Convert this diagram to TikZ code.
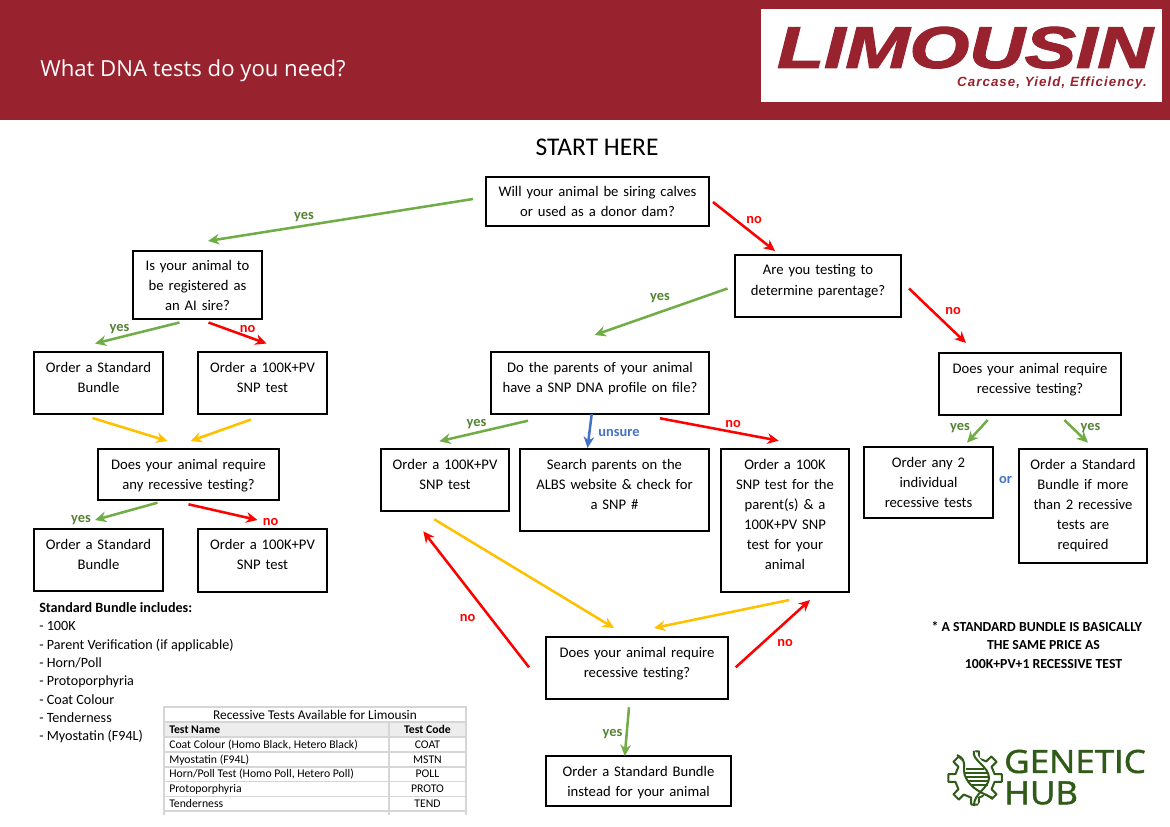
\documentclass[tikz,border=0pt]{standalone}
\usepackage{fontspec}
\setmainfont{Carlito}
\newfontfamily\limofont[BoldItalicFeatures={FakeBold=2}]{Liberation Sans}
\newfontfamily\carcasefont[BoldItalicFeatures={LetterSpace=8}]{Liberation Sans}
\newfontfamily\titlefont{Open Sans}
\newfontfamily\hubfont[FakeBold=1.5]{Open Sans}
\usetikzlibrary{positioning,calc,arrows.meta}
\definecolor{Banner}{HTML}{98222E}
\definecolor{YesGreen}{HTML}{70AD47}
\definecolor{YesText}{HTML}{548235}
\definecolor{NoRed}{HTML}{FF0000}
\definecolor{MoreYellow}{HTML}{FFC000}
\definecolor{UnsureBlue}{HTML}{4472C4}
\definecolor{HubGreen}{HTML}{2F5A17}
\definecolor{TableLine}{HTML}{D6D6D6}
\definecolor{TableHead}{HTML}{EDEDED}
\tikzset{
  order box/.style 2 args={draw=black,line width=1.3pt,anchor=north west,
    align=center,inner sep=0pt,outer sep=0pt,text width=#1*.75pt,minimum height=#2*.75pt,
    text height=15pt,text depth=#2*.75pt-15pt,
    font=\fontsize{11}{15}\selectfont},
  flow arrow/.style={->,>={Stealth[length=8.5pt,width=8pt]},line width=1.9pt},
  yes arrow/.style={flow arrow,draw=YesGreen},
  no arrow/.style={flow arrow,draw=NoRed},
  next arrow/.style={flow arrow,draw=MoreYellow},
  unsure arrow/.style={flow arrow,draw=UnsureBlue},
  arrow label/.style={font=\fontsize{10.8}{13}\selectfont\bfseries,inner sep=0pt,yshift=-1.6pt},
  yes label/.style={arrow label,text=YesText},
  no label/.style={arrow label,text=NoRed},
  blue label/.style={arrow label,text=UnsureBlue},
  table text/.style={font=\fontsize{8.8}{11}\selectfont,inner sep=0pt,text height=6.5pt,text depth=2pt},
  gene line/.style={draw=HubGreen,line width=1.5pt}
}
\begin{document}
\begin{tikzpicture}[x=.75pt,y=-.75pt]
  \useasboundingbox (0,0) rectangle (1170,827);
  \fill[Banner] (0,0) rectangle (1170,120);
  \node[anchor=west,text=white,inner sep=0pt,font=\fontsize{16.6}{20}\selectfont\titlefont] (title) at (40,71) {What DNA tests do you need?};
  \node[draw=none,fill=white,anchor=north west,minimum width=300.75pt,minimum height=69.5pt,inner sep=0pt] (logobox) at (761,9) {};
  \node[inner sep=0pt,text=Banner,xscale=1.31,transform shape,text height=32pt,text depth=0pt,font=\fontsize{44}{44}\selectfont\limofont\bfseries\itshape] (limousin) at (965,46.5) {LIMOUSIN};
  \node[anchor=east,inner sep=0pt,text=Banner,font=\fontsize{10}{12}\selectfont\carcasefont\bfseries\itshape] (carcase) at (1147,83) {Carcase, Yield, Efficiency.};
  \node[inner sep=0pt,font=\fontsize{19.1}{22}\selectfont] (start) at (597,147) {START HERE};
  % left branch
  \node[order box={223}{49}] (siring) at (486,177) {Will your animal be siring calves\\or used as a donor dam?};
  \node[order box={129}{68}] (aisire) at (133,251) {Is your animal to\\be registered as\\an AI sire?};
  \node[order box={129}{62}] (stdfirst) at (34,352) {Order a Standard\\Bundle};
  \node[order box={129}{62}] (snpfirst) at (198,352) {Order a 100K+PV\\SNP test};
  \node[order box={181}{51}] (anyrec) at (98,449) {Does your animal require\\any recessive testing?};
  \node[order box={129}{62}] (stdsecond) at (34,529) {Order a Standard\\Bundle};
  \node[order box={129}{63}] (snpsecond) at (198,529) {Order a 100K+PV\\SNP test};
  % middle branch
  \node[order box={166}{62}] (parentage) at (735,255) {Are you testing to\\determine parentage?};
  \node[order box={218}{62}] (profile) at (491,352) {Do the parents of your animal\\have a SNP DNA profile on file?};
  \node[order box={128}{62}] (snpthird) at (381,449) {Order a 100K+PV\\SNP test};
  \node[order box={189}{82}] (search) at (520,449) {Search parents on the\\ALBS website \& check for\\a SNP \#};
  \node[order box={128}{143}] (parents) at (721,449) {Order a 100K\\SNP test for the\\parent(s) \& a\\100K+PV SNP\\test for your\\animal};
  \node[order box={182}{62}] (recmiddle) at (546,637) {Does your animal require\\recessive testing?};
  \node[order box={185}{50}] (stdlast) at (546,756) {Order a Standard Bundle\\instead for your animal};
  % right branch
  \node[order box={182}{62}] (recright) at (939,353) {Does your animal require\\recessive testing?};
  \node[order box={129}{71}] (anytwo) at (864,447) {Order any 2\\individual\\recessive tests};
  \node[order box={128}{114}] (stdmore) at (1019,449) {Order a Standard\\Bundle if more\\than 2 recessive\\tests are\\required};
  \draw[yes arrow] ([shift={(-13,-2.5)}]siring.west) -- ([shift={(10.5,-10)}]aisire.north);
  \draw[no arrow] ([shift={(4,.5)}]siring.east) -- ([shift={(-43,-4)}]parentage.north);
  \draw[yes arrow] ([shift={(-18,3.5)}]aisire.south) -- ([shift={(-3.5,-8.5)}]stdfirst.north);
  \draw[no arrow] ([shift={(11,3.5)}]aisire.south) -- ([shift={(4,-8.5)}]snpfirst.north);
  \draw[next arrow] ([shift={(-6,4)}]stdfirst.south) -- ([shift={(-21,-8)}]anyrec.north);
  \draw[next arrow] ([shift={(-11.5,5.5)}]snpfirst.south) -- ([shift={(2,-8)}]anyrec.north);
  \draw[yes arrow] ([shift={(-31,2.7)}]anyrec.south) -- ([shift={(-3.5,-9)}]stdsecond.north);
  \draw[no arrow] ([shift={(0,4.3)}]anyrec.south) -- ([shift={(-5,-9)}]snpsecond.north);
  \draw[yes arrow] ([shift={(-7.5,2.5)}]parentage.west) -- ([shift={(-5.5,-17)}]profile.north);
  \draw[no arrow] ([shift={(8,2.5)}]parentage.east) -- ([shift={(-64,-10)}]recright.north);
  \draw[yes arrow] ([shift={(-72,6.7)}]profile.south) -- ([shift={(-5.7,-7.7)}]snpthird.north);
  \draw[unsure arrow] ([shift={(-8.3,0)}]profile.south) -- ([shift={(-27,-1)}]search.north);
  \draw[no arrow] ([shift={(60,4.3)}]profile.south) -- ([shift={(-6.3,-8.3)}]parents.north);
  \draw[yes arrow] ([shift={(-42.3,5)}]recright.south) -- ([shift={(38.5,-4.3)}]anytwo.north);
  \draw[yes arrow] ([shift={(34.3,5)}]recright.south) -- ([shift={(5,-6.3)}]stdmore.north);
  \draw[next arrow] ([shift={(-10.7,8.3)}]snpthird.south) -- ([shift={(-23,-9)}]recmiddle.north);
  \draw[next arrow] ([shift={(4.3,8)}]parents.south) -- ([shift={(17,-9)}]recmiddle.north);
  \draw[no arrow] ([shift={(-17,-.7)}]recmiddle.west) -- ([shift={(-21.7,20.3)}]snpthird.south);
  \draw[no arrow] ([shift={(7.7,-.7)}]recmiddle.east) -- ([shift={(25,8)}]parents.south);
  \draw[yes arrow] ([shift={(-8,8.3)}]recmiddle.south) -- ([shift={(-13.8,0)}]stdlast.north);
  \node[yes label] (yessiring) at (304,214.5) {yes};
  \node[no label] (nosiring) at (754,217.5) {no};
  \node[yes label] (yesaisire) at (119.5,327) {yes};
  \node[no label] (noaisire) at (247.5,327) {no};
  \node[yes label] (yesanyrec) at (81,517.5) {yes};
  \node[no label] (noanyrec) at (270.5,519.5) {no};
  \node[yes label] (yesparentage) at (660,296) {yes};
  \node[no label] (noparentage) at (953,309) {no};
  \node[yes label] (yesprofile) at (476.5,422) {yes};
  \node[blue label] (unsure) at (619,431) {unsure};
  \node[no label] (noprofile) at (733,422) {no};
  \node[yes label] (yesany) at (960,426) {yes};
  \node[yes label] (yesmore) at (1090.5,426) {yes};
  \node[blue label] (orlabel) at (1005.5,478) {or};
  \node[no label] (noleft) at (467.5,616) {no};
  \node[no label] (noright) at (785,641) {no};
  \node[yes label] (yeslast) at (612.5,732) {yes};
  \node[anchor=north west,align=left,inner sep=0pt,font=\fontsize{10.6}{13.7}\selectfont] (bundle) at (39,602.5) {\textbf{Standard Bundle includes:}\\- 100K\\- Parent Verification (if applicable)\\- Horn/Poll\\- Protoporphyria\\- Coat Colour\\- Tenderness\\- Myostatin (F94L)};
  \node[align=center,inner sep=0pt,font=\fontsize{10.35}{13.6}\selectfont\bfseries] (samenote) at (1043.5,645) {* A STANDARD BUNDLE IS BASICALLY\hspace*{10pt}\\THE SAME PRICE AS\\100K+PV+1 RECESSIVE TEST};
  % recessive tests table
  \fill[TableHead] (164,722) rectangle (466,737);
  \draw[TableLine,line width=.8pt] (164,815) -- (164,707) -- (466,707) -- (466,815);
  \draw[TableLine,line width=.8pt] (389,722) -- (389,815);
  \foreach \rowy in {722,737,752,767,781.5,796.5,811}
    \draw[TableLine,line width=1pt] (164,\rowy) -- (466,\rowy);
  \node[inner sep=0pt,font=\fontsize{10}{12}\selectfont] (tabletitle) at (315,715) {Recessive Tests Available for Limousin};
  \node[table text,anchor=west,font=\fontsize{8.8}{11}\selectfont\bfseries] (namehead) at (169,730) {Test Name};
  \node[table text,font=\fontsize{8.8}{11}\selectfont\bfseries] (codehead) at (427.5,730) {Test Code};
  \foreach \testname/\testcode/\rowy [count=\ri] in {{Coat Colour (Homo Black, Hetero Black)}/COAT/745,Myostatin (F94L)/MSTN/760,{Horn/Poll Test (Homo Poll, Hetero Poll)}/POLL/774.5,Protoporphyria/PROTO/789,Tenderness/TEND/804}{
    \node[table text,anchor=west] (testname\ri) at (169,\rowy) {\testname};
    \node[table text] (testcode\ri) at (427.5,\rowy) {\testcode};
  }
  % genetic hub logo
  \begin{scope}[shift={(975,778)}]
    \draw[gene line,line join=round] (-11:20)
      \foreach \a in {0,45,...,315} {
        -- (\a-11:20) -- (\a-8:27) -- (\a+8:27) -- (\a+11:20)
      } -- cycle;
    \fill[white] (-21,-26) .. controls (-8,-18) and (-14,-8) .. (-9,0) .. controls (-4,10) and (6,14) .. (20,24) -- (0,32) .. controls (10,16) and (18,6) .. (14,-4) .. controls (10,-14) and (4,-20) .. (-2,-30) -- cycle;
    \draw[gene line] (-18,-23) .. controls (-6,-18) and (-14,-8) .. (-9,0) .. controls (-4,10) and (6,15) .. (18,20);
    \draw[gene line] (-1,-27) .. controls (-4,-18) and (14,-12) .. (14,0) .. controls (14,10) and (-2,16) .. (-1,28);
    \foreach \barx/\bary/\barw in {-9/-9/18,-10/-5/22,-9/-1/23,-7/3/21,-3/7/16}
      \draw[gene line,line width=1.2pt] (\barx,\bary) -- ++(\barw,0);
  \end{scope}
  \node[anchor=west,inner sep=0pt,text=HubGreen,xscale=1.09,transform shape,font=\fontsize{24}{28}\selectfont\hubfont] (genetic) at (1004,761.5) {GENETIC};
  \node[anchor=west,inner sep=0pt,text=HubGreen,xscale=1.09,transform shape,font=\fontsize{24}{28}\selectfont\hubfont] (hub) at (1004,793) {HUB};
\end{tikzpicture}
\end{document}
